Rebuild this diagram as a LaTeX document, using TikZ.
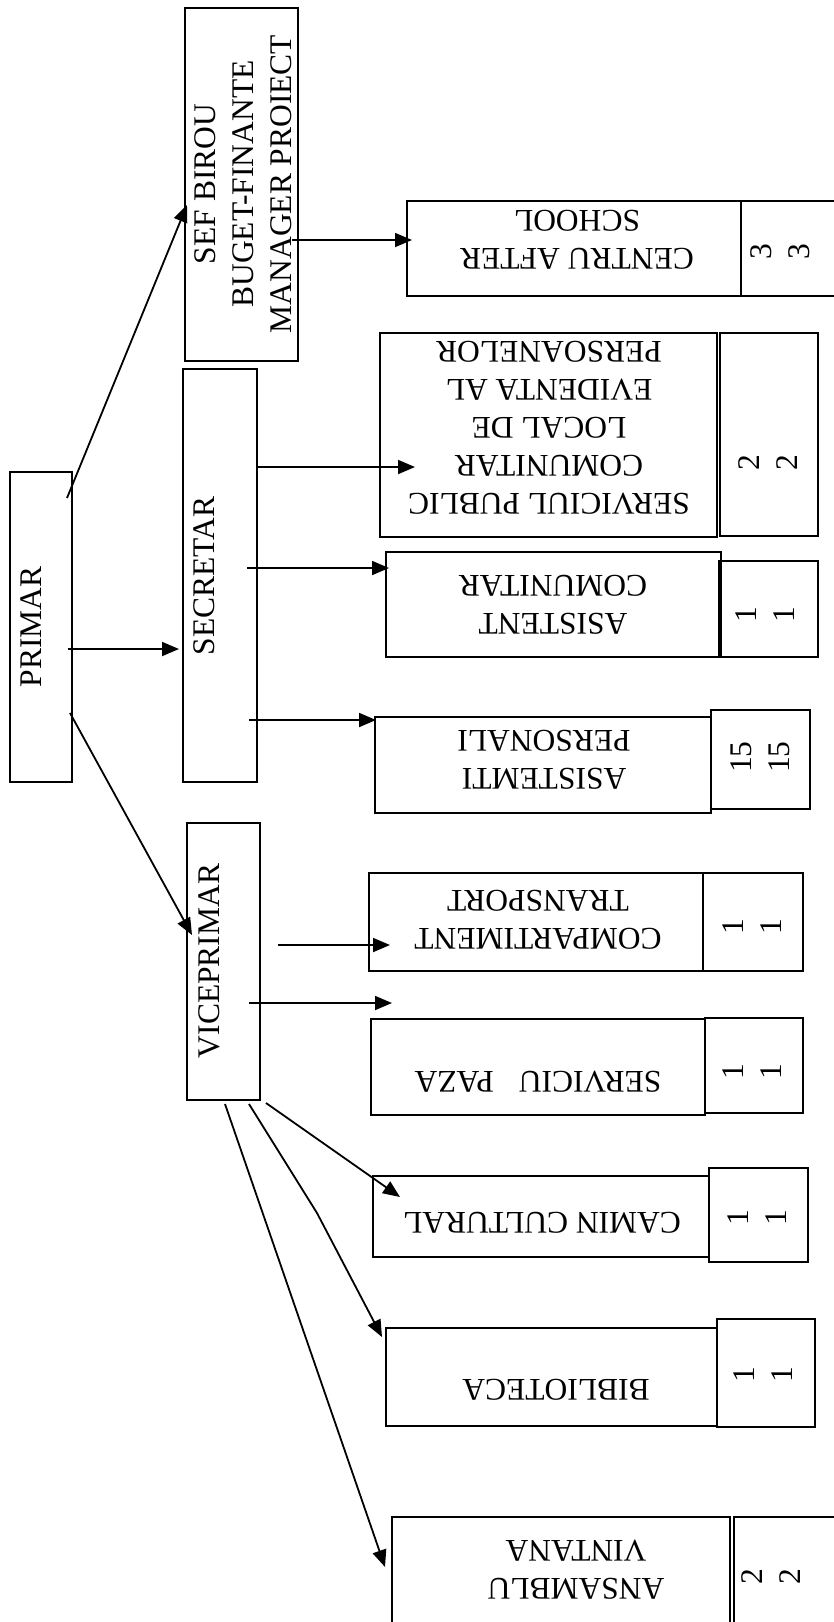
\documentclass[tikz,border=0pt]{standalone}
\usepackage{fontspec}
\setmainfont{Liberation Serif}
\usetikzlibrary{arrows.meta}
\newcommand{\mybox}[5]{\node[box, minimum width={#4-#2}, minimum height={#5-#3}] (#1) at ({(#2+#4)/2},{(#3+#5)/2}) {};}
\tikzset{
  box/.style={draw, line width=1.8pt, inner sep=0pt},
  lbl/.style={inner sep=0pt, align=center, font=\fontsize{31.5}{38}\selectfont},
  arr/.style={line width=1.8pt, -{Triangle[length=17pt,width=14pt]}},
}
\begin{document}
\begin{tikzpicture}[x=1pt,y=-1pt]
\useasboundingbox (0,0) rectangle (833,1622);
% left column
\mybox{sef}{185}{8}{298}{361}
\mybox{primar}{10}{472}{72}{782}
\mybox{secretar}{183}{369}{257}{782}
\mybox{vice}{187}{823}{260}{1100}
% right column
\mybox{centru}{407}{201}{741}{296}
\mybox{centrun}{741}{201}{850}{296}
\mybox{servpub}{380}{333}{717}{537}
\mybox{servpubn}{720}{333}{818}{536}
\mybox{asistc}{386}{552}{721}{657}
\mybox{asistcn}{719}{561}{818}{657}
\mybox{asistp}{375}{717}{711}{813}
\mybox{asistpn}{711}{710}{810}{809}
\mybox{transp}{369}{873}{703}{971}
\mybox{transpn}{703}{873}{803}{971}
\mybox{paza}{371}{1019}{705}{1115}
\mybox{pazan}{705}{1018}{803}{1113}
\mybox{camin}{373}{1176}{709}{1257}
\mybox{caminn}{709}{1168}{808}{1262}
\mybox{biblio}{386}{1328}{717}{1426}
\mybox{biblion}{717}{1319}{815}{1427}
\mybox{ansa}{392}{1517}{730}{1650}
\mybox{ansan}{734}{1517}{850}{1650}
% texts left
\node[lbl, rotate=90] (tsef) at (243,184) {SEF BIROU\\BUGET-FINANTE\\MANAGER PROIECT};
\node[lbl, rotate=90] (tprimar) at (31,627) {PRIMAR};
\node[lbl, rotate=90] (tsecretar) at (204,576) {SECRETAR};
\node[lbl, rotate=90] (tvice) at (209,961) {VICEPRIMAR};
% texts right
\node[lbl, rotate=180] (tcentru) at (577,240) {CENTRU AFTER\\SCHOOL};
\node[lbl, rotate=180] (tservpub) at (549,428) {SERVICIUL PUBLIC\\COMUNITAR\\LOCAL DE\\EVIDENTA AL\\PERSOANELOR};
\node[lbl, rotate=180] (tasistc) at (553,605) {ASISTENT\\COMUNITAR};
\node[lbl, rotate=180] (tasistp) at (544,760) {ASISTEMTI\\PERSONALI};
\node[lbl, rotate=180] (ttransp) at (538,920) {COMPARTIMENT\\TRANSPORT};
\node[lbl, rotate=180] (tpaza) at (538,1082) {SERVICIU\hspace{17pt} PAZA};
\node[lbl, rotate=180] (tcamin) at (542,1223) {CAMIN CULTURAL};
\node[lbl, rotate=180] (tbiblio) at (556,1390) {BIBLIOTECA};
\node[lbl, rotate=180] (tansa) at (576,1570) {ANSAMBLU\\VINTANA};
% numbers
\node[lbl, rotate=90] (ncentru) at (780,252) {3\\3};
\node[lbl, rotate=90] (nservpub) at (768,463) {2\\2};
\node[lbl, rotate=90] (nasistc) at (765,615) {1\\1};
\node[lbl, rotate=90] (nasistp) at (760,757) {15\\15};
\node[lbl, rotate=90] (ntransp) at (752,927) {1\\1};
\node[lbl, rotate=90] (npaza) at (752,1072) {1\\1};
\node[lbl, rotate=90] (ncamin) at (757,1218) {1\\1};
\node[lbl, rotate=90] (nbiblio) at (763,1375) {1\\1};
\node[lbl, rotate=90] (nansa) at (771,1577) {2\\2};
% connector end points
\coordinate (pA) at (67,498);   \coordinate (sefT) at (187,205);
\coordinate (pB) at (68,649);   \coordinate (secT) at (179,649);
\coordinate (pC) at (70,713);   \coordinate (viceT) at (192,935);
\coordinate (sefS) at (292,240); \coordinate (centruT) at (412,240);
\coordinate (sA) at (258,467);  \coordinate (servT) at (415,467);
\coordinate (sB) at (247,568);  \coordinate (asistcT) at (389,568);
\coordinate (sC) at (249,720);  \coordinate (asistpT) at (376,720);
\coordinate (vA) at (278,945);  \coordinate (transpT) at (390,945);
\coordinate (vB) at (249,1003); \coordinate (freeT) at (392,1003);
\coordinate (vC) at (266,1103); \coordinate (caminT) at (400,1197);
\coordinate (vD) at (249,1104); \coordinate (bend) at (317,1213); \coordinate (biblioT) at (382,1337);
\coordinate (vE) at (225,1104); \coordinate (ansaT) at (385,1567);
% connectors
\draw[arr] (pA) -- (sefT);
\draw[arr] (pB) -- (secT);
\draw[arr] (pC) -- (viceT);
\draw[arr] (sefS) -- (centruT);
\draw[arr] (sA) -- (servT);
\draw[arr] (sB) -- (asistcT);
\draw[arr] (sC) -- (asistpT);
\draw[arr] (vA) -- (transpT);
\draw[arr] (vB) -- (freeT);
\draw[arr] (vC) -- (caminT);
\draw[arr] (vD) -- (bend) -- (biblioT);
\draw[arr] (vE) -- (ansaT);
\end{tikzpicture}
\end{document}
